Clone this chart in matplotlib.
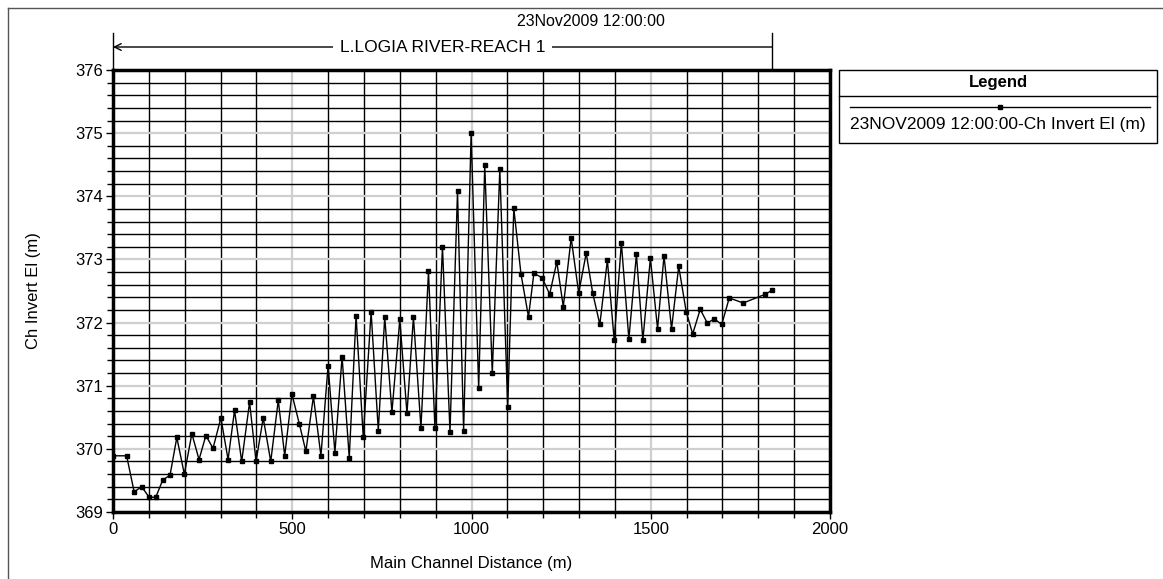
import numpy as np
import matplotlib.pyplot as plt
from matplotlib.lines import Line2D
from matplotlib.patches import Rectangle
from matplotlib.ticker import MultipleLocator

plt.rcParams['font.family'] = ['Liberation Sans', 'DejaVu Sans']
plt.rcParams['font.size'] = 12

# main channel station (m) and channel invert elevation (m)
station = [0, 38, 59, 80, 100, 119, 139, 159, 178, 199, 220, 240, 259, 279, 301,
           321, 339, 359, 381, 399, 419, 440, 461, 479, 499, 520, 538, 559, 580,
           600, 619, 639, 659, 678, 698, 720, 740, 758, 778, 800, 820, 838, 859,
           880, 898, 919, 940, 961, 978, 999, 1020, 1037, 1058, 1079, 1101, 1118,
           1138, 1159, 1174, 1197, 1218, 1238, 1256, 1278, 1299, 1320, 1338, 1358,
           1379, 1398, 1418, 1439, 1460, 1478, 1499, 1519, 1537, 1558, 1578, 1599,
           1617, 1638, 1658, 1677, 1698, 1719, 1758, 1820, 1838]
invert = [369.89, 369.89, 369.32, 369.40, 369.24, 369.23, 369.51, 369.58, 370.18,
          369.60, 370.24, 369.83, 370.21, 370.01, 370.49, 369.83, 370.61, 369.80,
          370.74, 369.80, 370.49, 369.80, 370.77, 369.89, 370.87, 370.39, 369.96,
          370.83, 369.89, 371.32, 369.94, 371.46, 369.86, 372.11, 370.19, 372.17,
          370.29, 372.09, 370.58, 372.05, 370.56, 372.09, 370.33, 372.81, 370.33,
          373.20, 370.27, 374.08, 370.29, 375.00, 370.96, 374.49, 371.20, 374.43,
          370.66, 373.81, 372.77, 372.09, 372.78, 372.71, 372.45, 372.96, 372.25,
          373.34, 372.47, 373.10, 372.47, 371.97, 372.99, 371.72, 373.26, 371.74,
          373.08, 371.72, 373.02, 371.90, 373.06, 371.90, 372.89, 372.17, 371.82,
          372.21, 371.99, 372.06, 371.97, 372.39, 372.31, 372.45, 372.51]

reach_name = "L.LOGIA RIVER-REACH 1"
profile_time = "23Nov2009 12:00:00"
series_label = "23NOV2009 12:00:00-Ch Invert El (m)"

W, H = 1163, 579
fig = plt.figure(figsize=(W / 100, H / 100), dpi=100)
ax = fig.add_axes([113 / W, 1 - 512 / H, (830 - 113) / W, (512 - 70) / H])

ax.plot(station, invert, color='black', lw=1, marker='s', markersize=2.6,
        zorder=3)

ax.set_xlim(0, 2000)
ax.set_ylim(369, 376)
ax.xaxis.set_major_locator(MultipleLocator(500))
ax.xaxis.set_minor_locator(MultipleLocator(100))
ax.yaxis.set_major_locator(MultipleLocator(1))
ax.yaxis.set_minor_locator(MultipleLocator(0.2))
ax.set_axisbelow(True)
ax.grid(which='minor', color='black', lw=1.0)
ax.grid(which='major', color='#cfcfcf', lw=1.6)
ax.tick_params(which='major', direction='out', length=5, width=1, pad=2,
               labelsize=12)
ax.tick_params(which='minor', direction='out', length=4, width=1)
for s in ax.spines.values():
    s.set_linewidth(2.5)

ax.set_xlabel('Main Channel Distance (m)', fontsize=12)
ax.set_ylabel('Ch Invert El (m)', fontsize=12)
ax.xaxis.set_label_coords(0.5, -0.1)
ax.yaxis.set_label_coords(-0.1, 0.5)

# reach stationing bar above the plot
tr = ax.get_xaxis_transform()
ybar = (512 - 47) / 442
ax.annotate('', xy=(0, ybar), xytext=(station[-1], ybar), xycoords=tr,
            textcoords=tr, annotation_clip=False,
            arrowprops=dict(arrowstyle='->', color='black', lw=1,
                            shrinkA=0, shrinkB=0))
for xe in (0, station[-1]):
    ax.plot([xe, xe], [1.0, (512 - 33) / 442], transform=tr, color='black',
            lw=1, clip_on=False)
ax.text(station[-1] / 2, ybar, reach_name, transform=tr, ha='center',
        va='center', fontsize=12.5,
        bbox=dict(facecolor='white', edgecolor='none', pad=5))
fig.text(591 / W, 1 - 22 / H, profile_time, ha='center', va='center',
         fontsize=11.5)

# legend box
x0, x1, y0, y1 = 839, 1157, 70, 143
fig.add_artist(Rectangle((x0 / W, 1 - y1 / H), (x1 - x0) / W, (y1 - y0) / H,
                         transform=fig.transFigure, fill=False,
                         edgecolor='black', lw=1))
fig.add_artist(Line2D([x0 / W, x1 / W], [1 - 96 / H, 1 - 96 / H],
                      color='black', lw=1))
fig.text((x0 + x1) / 2 / W, 1 - 83 / H, 'Legend', ha='center', va='center',
         fontsize=12, fontweight='bold')
fig.add_artist(Line2D([850 / W, 1150 / W], [1 - 107 / H, 1 - 107 / H],
                      color='black', lw=1))
fig.add_artist(Line2D([1000 / W], [1 - 107 / H], color='black', marker='s',
                      markersize=2.6, lw=0))
fig.text((x0 + x1) / 2 / W, 1 - 125 / H, series_label, ha='center',
         va='center', fontsize=12.5)

# outer frame
fig.add_artist(Line2D([8 / W, 8 / W], [0, 1 - 8 / H], color='#555555', lw=1))
fig.add_artist(Line2D([8 / W, 1], [1 - 8 / H, 1 - 8 / H], color='#555555',
                      lw=1))

fig.savefig('out.png', dpi=100)
